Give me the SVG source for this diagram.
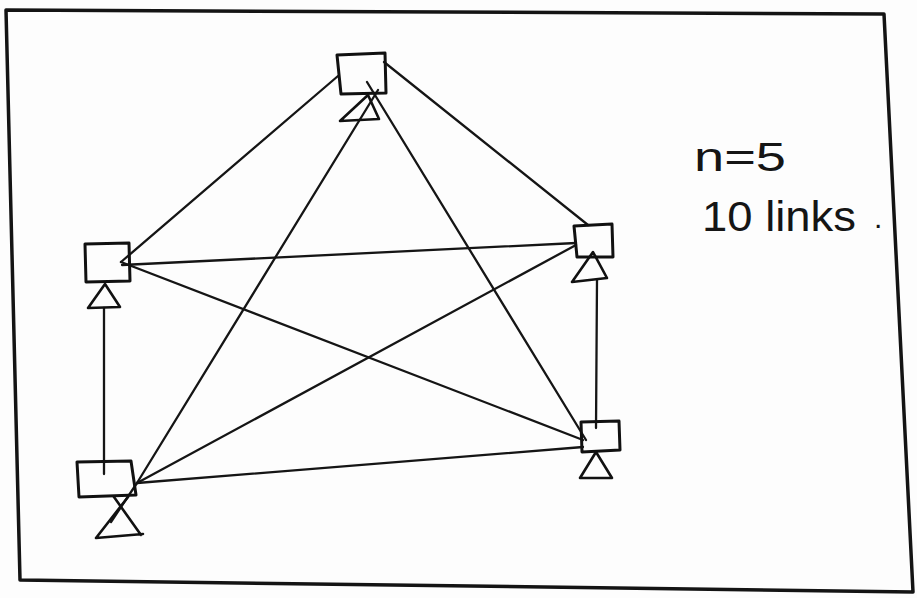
<svg xmlns="http://www.w3.org/2000/svg" width="917" height="598" viewBox="0 0 917 598">
<style>
.frame{fill:none;stroke:#141414;stroke-width:3.5;stroke-linejoin:round;stroke-linecap:round}
.box{fill:none;stroke:#111;stroke-width:3;stroke-linejoin:round;stroke-linecap:round}
.tri{fill:none;stroke:#111;stroke-width:2.6;stroke-linejoin:round;stroke-linecap:round}
.link{fill:none;stroke:#151515;stroke-width:2.3;stroke-linecap:round}
.note{font-family:"Liberation Sans","DejaVu Sans",sans-serif;fill:#151515}
</style>
<rect x="0" y="0" width="917" height="598" fill="#fdfdfd"/>
<path class="frame" d="M6,10 L884,14 L913,592 L20,580 Z"/>
<g id="connectors">
<line class="link" x1="338" y1="76" x2="121" y2="262"/>
<line class="link" x1="384" y1="62" x2="588" y2="225"/>
<line class="link" x1="378" y1="90" x2="137" y2="483"/>
<line class="link" x1="367" y1="82" x2="586" y2="440"/>
<line class="link" x1="122" y1="265" x2="576" y2="243"/>
<line class="link" x1="121" y1="262" x2="583" y2="440"/>
<line class="link" x1="104" y1="308" x2="104" y2="474"/>
<line class="link" x1="597" y1="280" x2="596" y2="428"/>
<line class="link" x1="576" y1="245" x2="137" y2="483"/>
<line class="link" x1="583" y1="447" x2="137" y2="483"/>
<line class="link" x1="137" y1="483" x2="111" y2="522"/>
</g>
<g id="node-top">
<path class="box" d="M337,55 L385,53 L386,93 L341,94 Z"/>
<path class="tri" d="M340,121 L368,95 L379,119 Z"/>
</g>
<g id="node-left">
<path class="box" d="M85,244 L129,243 L130,281 L86,282 Z"/>
<path class="tri" d="M88,308 L105,284 L120,307 Z"/>
</g>
<g id="node-right-top">
<path class="box" d="M574,226 L612,224 L613,257 L577,257 Z"/>
<path class="tri" d="M572,282 L593,252 L607,278 Z"/>
</g>
<g id="node-right-bottom">
<path class="box" d="M581,422 L619,421 L620,450 L582,452 Z"/>
<path class="tri" d="M580,478 L596,452 L612,478 Z"/>
</g>
<g id="node-bottom-left">
<path class="box" d="M77,462 L131,461 L136,495 L79,497 Z"/>
<path class="tri" d="M114,497 L141,535 M128,497 L96,538 L143,534"/>
</g>
<g id="note">
<text class="note" x="694" y="171" font-size="40" textLength="92" lengthAdjust="spacingAndGlyphs">n=5</text>
<text class="note" x="702" y="231" font-size="42" textLength="154" lengthAdjust="spacingAndGlyphs">10 links</text>
<text class="note" x="874" y="228" font-size="30">.</text>
</g>
</svg>
